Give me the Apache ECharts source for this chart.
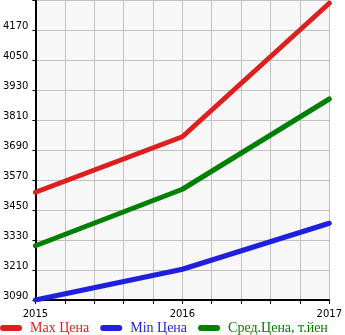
<!DOCTYPE html>
<html>
<head>
<meta charset="utf-8">
<script src="https://cdn.jsdelivr.net/npm/echarts@6/dist/echarts.min.js"></script>
<style>
html,body{margin:0;padding:0;background:#fff;}
#chart{width:345px;height:335px;}
</style>
</head>
<body>
<div id="chart"></div>
<script>
const years = [2015, 2016, 2017];
const maxPrice = [3521, 3743, 4277];
const minPrice = [3090, 3213, 3397];
const avgPrice = [3307, 3533, 3894];
const seriesNames = ['Max Цена', 'Min Цена', 'Сред.Цена, т.йен'];
const colors = ['#dd1f1f', '#1f1fdd', '#008000'];

const toPairs = arr => years.map((y, i) => [y, arr[i]]);
const iconPath = 'path://M3,0 L19,0 A3,3 0 0 1 19,6 L3,6 A3,3 0 0 1 3,0 Z';

const chart = echarts.init(document.getElementById('chart'), null, {renderer: 'canvas'});
chart.setOption({
  animation: false,
  backgroundColor: '#ffffff',
  grid: {left: 32, right: 14, top: 0, bottom: 35, show: true, backgroundColor: '#f7f7f7', borderWidth: 0},
  xAxis: {
    type: 'value', min: 2015, max: 2017, interval: 0.2,
    axisLine: {show: true, onZero: false, lineStyle: {color: '#000', width: 2}},
    axisTick: {show: true, length: 4, lineStyle: {color: '#000', width: 1}},
    splitLine: {show: true, lineStyle: {color: '#c0c0c0', width: 1}},
    axisLabel: {
      margin: 9, color: '#000', fontFamily: 'DejaVu Sans', fontSize: 10,
      formatter: v => Math.abs(v - Math.round(v)) < 1e-6 ? String(Math.round(v)) : ''
    }
  },
  yAxis: {
    type: 'value', min: 3090, max: 4290, interval: 120,
    axisLine: {show: true, onZero: false, lineStyle: {color: '#000', width: 2}},
    axisTick: {show: true, length: 3, lineStyle: {color: '#000', width: 1}},
    splitLine: {show: true, lineStyle: {color: '#c0c0c0', width: 1}},
    axisLabel: {
      margin: 7, color: '#000', fontFamily: 'DejaVu Sans', fontSize: 10,
      verticalAlign: 'bottom', lineHeight: 7,
      formatter: v => (v >= 4290 ? '' : String(Math.round(v)))
    }
  },
  legend: {
    left: 0, bottom: 0, padding: 0, itemGap: 11, itemWidth: 22, itemHeight: 6,
    icon: iconPath,
    data: seriesNames.map((n, i) => ({name: n, textStyle: {color: colors[i]}})),
    textStyle: {fontFamily: 'Liberation Serif', fontSize: 14, padding: [0, 0, 0, 3]}
  },
  series: [
    {name: seriesNames[0], type: 'line', data: toPairs(maxPrice)},
    {name: seriesNames[1], type: 'line', data: toPairs(minPrice)},
    {name: seriesNames[2], type: 'line', data: toPairs(avgPrice)}
  ].map((s, i) => Object.assign(s, {
    showSymbol: false, symbol: 'none', color: colors[i],
    lineStyle: {width: 5, color: colors[i], cap: 'round', join: 'round'}
  }))
});
</script>
</body>
</html>
